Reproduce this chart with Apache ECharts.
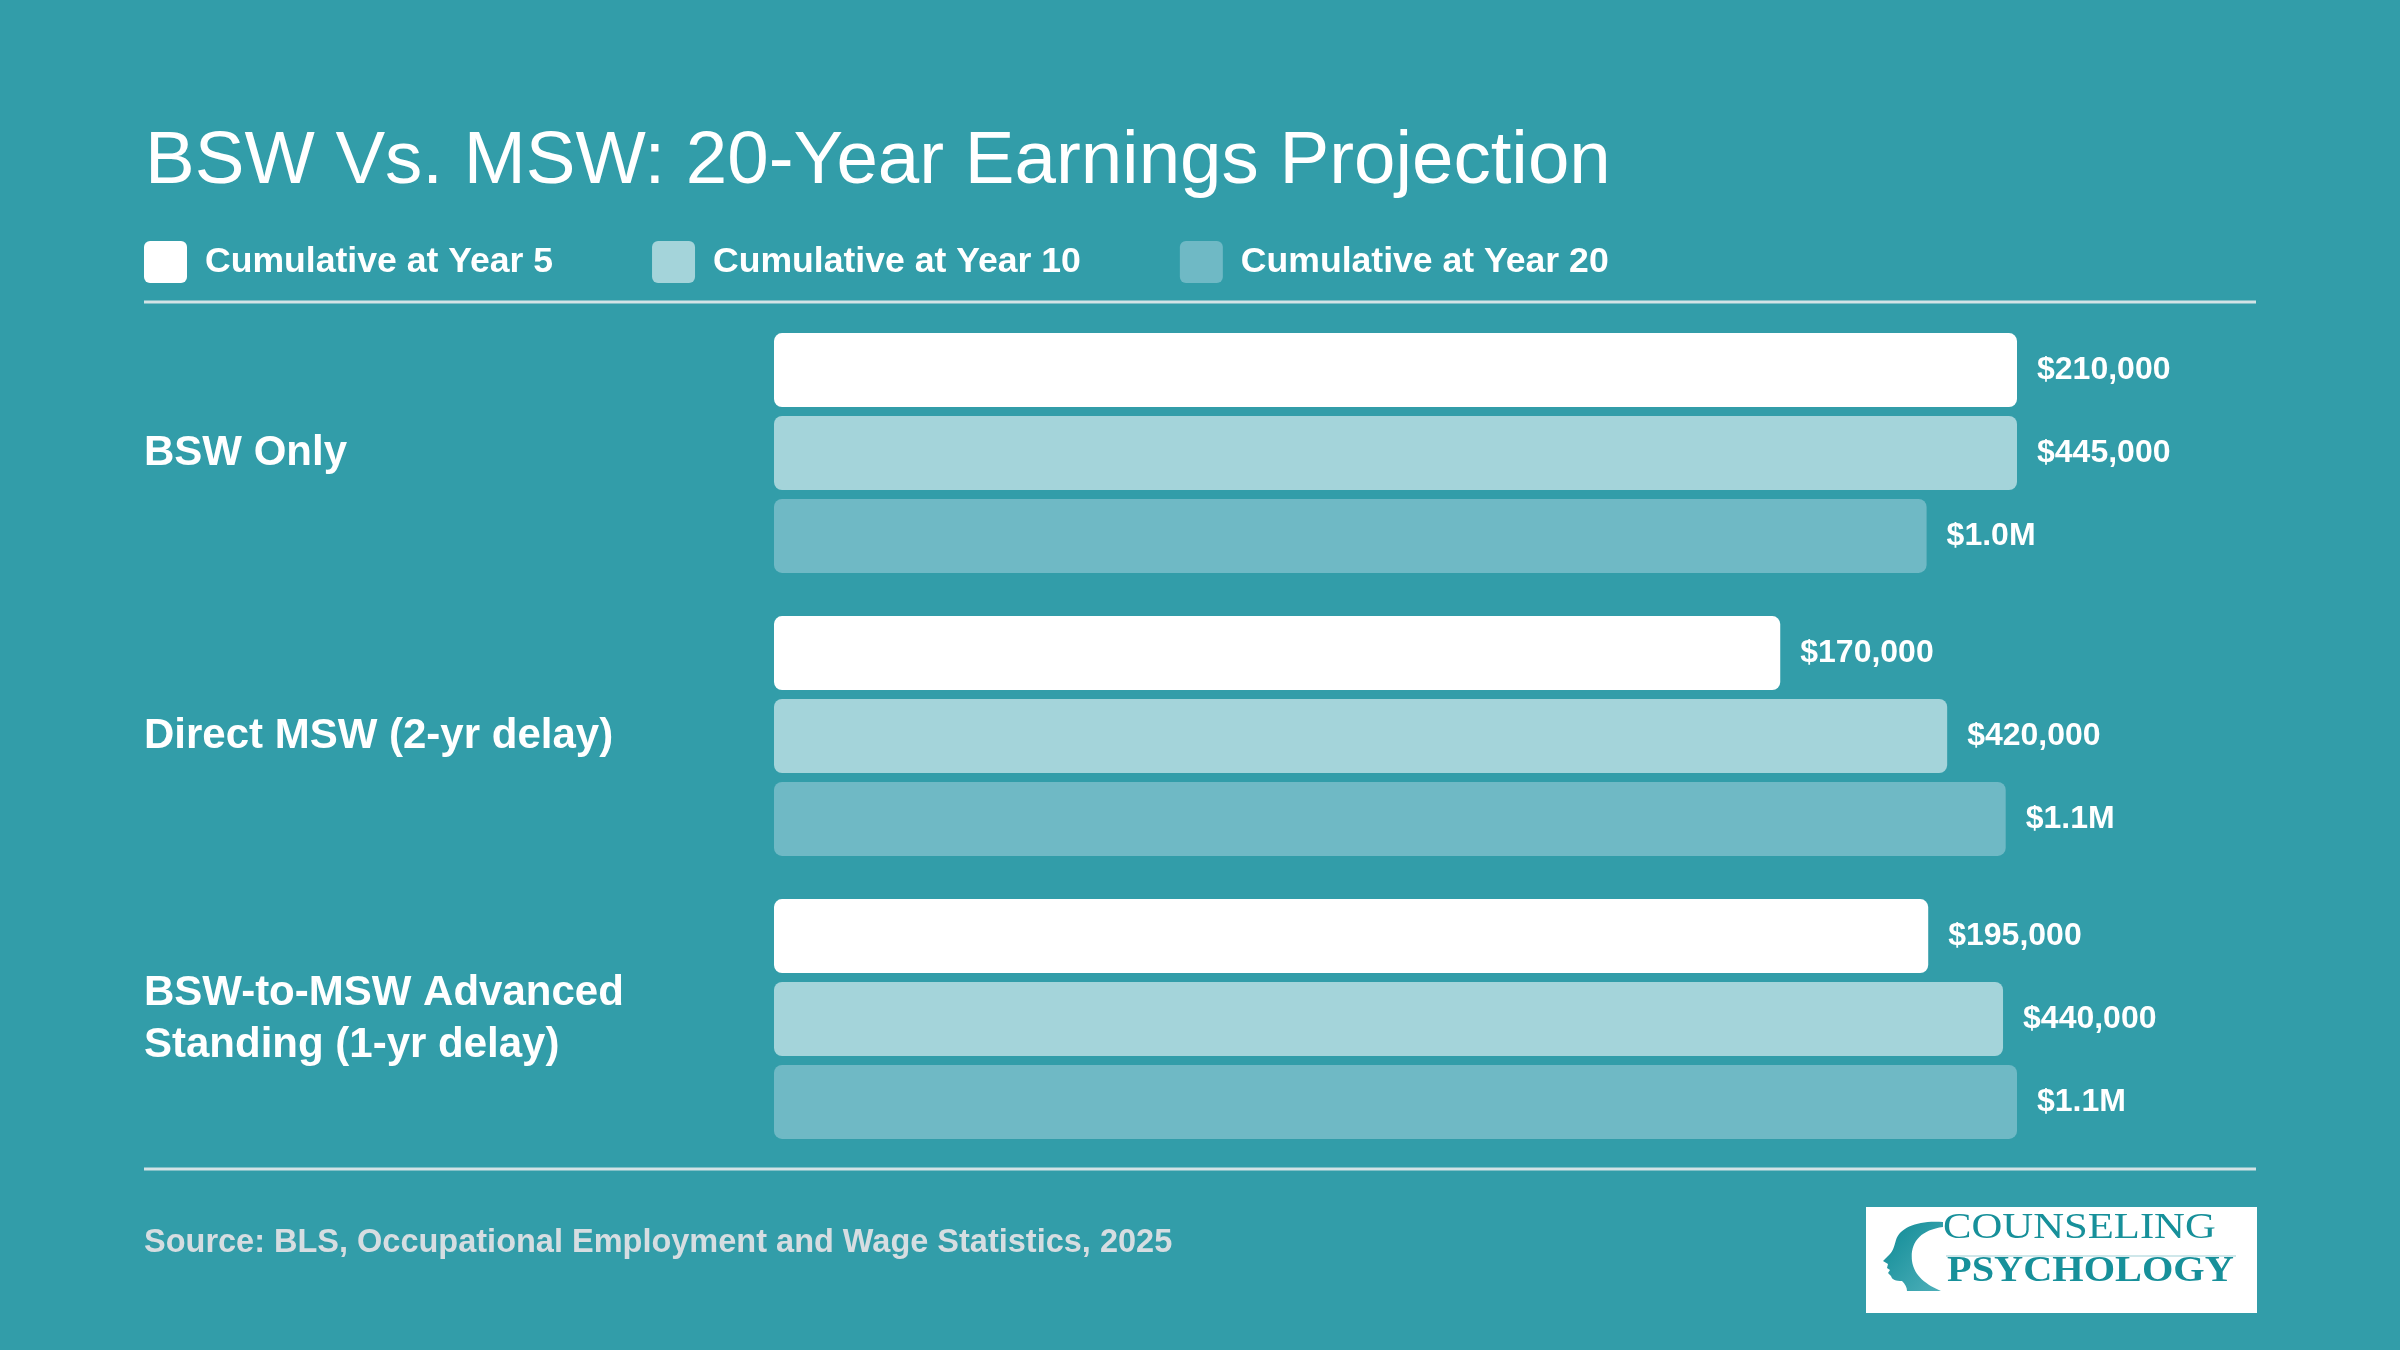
<!DOCTYPE html>
<html>
<head>
<meta charset="utf-8">
<script src="https://cdn.jsdelivr.net/npm/echarts@6/dist/echarts.min.js"></script>
<style>
  html, body { margin: 0; padding: 0; background: #329DA9; }
  #chart { width: 2400px; height: 1350px; }
</style>
</head>
<body>
<div id="chart"></div>
<script>
// ---- data ----
const categories = ['BSW Only', 'Direct MSW (2-yr delay)', 'BSW-to-MSW Advanced Standing (1-yr delay)'];
const seriesNames = ['Cumulative at Year 5', 'Cumulative at Year 10', 'Cumulative at Year 20'];
const year5 = [210000, 170000, 195000];
const year10 = [445000, 420000, 440000];
const year20 = [1020000, 1090000, 1100000];
const titleText = 'BSW Vs. MSW: 20-Year Earnings Projection';
const sourceText = 'Source: BLS, Occupational Employment and Wage Statistics, 2025';

const FONT = '"Liberation Sans", Arial, Helvetica, sans-serif';
const SERIF = '"Liberation Serif", "DejaVu Serif", serif';
const BG = '#329DA9';
const colors = ['#FFFFFF', '#A4D4DA', '#6FB9C5'];

function fmt(v) {
  if (v >= 1000000) return '$' + (v / 1000000).toFixed(1) + 'M';
  return '$' + v.toLocaleString('en-US');
}

const chart = echarts.init(document.getElementById('chart'), null, { renderer: 'canvas' });

const dataSets = [year5, year10, year20];
const roundRectIcon = 'path://M6,0 H37 A6,6 0 0 1 43,6 V36 A6,6 0 0 1 37,42 H6 A6,6 0 0 1 0,36 V6 A6,6 0 0 1 6,0 Z';

const series = dataSets.map((d, i) => ({
  name: seriesNames[i],
  type: 'bar',
  xAxisIndex: i,
  yAxisIndex: 0,
  data: d,
  barWidth: 74,
  barGap: '12%',
  itemStyle: { color: colors[i], borderRadius: 8 },
  label: {
    show: true,
    position: 'right',
    distance: 20,
    color: '#FFFFFF',
    fontFamily: FONT,
    fontWeight: 'bold',
    fontSize: 32,
    formatter: p => fmt(p.value)
  },
  emphasis: { disabled: true },
  animation: false
}));

const headPath = 'M60,1 C36,-1 17,6 13,19 C11,26 10,30 7,33 L0,40 L5,43 L4,47 L7,49 L5,52 L8,55 C9,59 13,60 19,60 C22,63 24,66 24,70 L58,70 C44,64 31,55 29,40 C27,22 37,9 60,6 Z';
const headSvg = '<svg xmlns="http://www.w3.org/2000/svg" width="60" height="70" viewBox="0 0 60 70">' +
  '<defs><linearGradient id="g" x1="0" y1="0" x2="1" y2="1"><stop offset="0" stop-color="#0E8A95"/><stop offset="1" stop-color="#4FB0BA"/></linearGradient></defs>' +
  '<path d="' + headPath + '" fill="url(#g)"/></svg>';
const headImg = 'data:image/svg+xml;charset=utf-8,' + encodeURIComponent(headSvg);

const option = {
  backgroundColor: BG,
  animation: false,
  title: {
    text: titleText,
    left: 140,
    top: 120,
    textStyle: { color: '#FFFFFF', fontFamily: FONT, fontWeight: 'normal', fontSize: 74.5 }
  },
  legend: {
    left: 144,
    top: 241,
    padding: 0,
    itemWidth: 43,
    itemHeight: 42,
    itemGap: 99,
    icon: roundRectIcon,
    data: seriesNames,
    selectedMode: false,
    textStyle: { color: '#FFFFFF', fontFamily: FONT, fontWeight: 'bold', fontSize: 35.6, padding: [0, 0, 0, 13] }
  },
  grid: { left: 774, top: 311.5, width: 1243, height: 849, containLabel: false },
  xAxis: dataSets.map(() => ({
    type: 'value', min: 0, max: 'dataMax', show: false
  })),
  yAxis: [{
    type: 'category',
    data: categories,
    inverse: true,
    axisLine: { show: false },
    axisTick: { show: false },
    splitLine: { show: false },
    axisLabel: {
      align: 'left',
      margin: 630,
      color: '#FFFFFF',
      fontFamily: FONT,
      fontWeight: 'bold',
      fontSize: 42,
      lineHeight: 52,
      width: 500,
      overflow: 'break',
      padding: [10, 0, 0, 0]
    }
  }],
  series: series,
  graphic: [
    { type: 'line', shape: { x1: 144, y1: 302, x2: 2256, y2: 302 }, style: { stroke: '#D3E3E6', lineWidth: 3 }, silent: true },
    { type: 'line', shape: { x1: 144, y1: 1169, x2: 2256, y2: 1169 }, style: { stroke: '#D3E3E6', lineWidth: 3 }, silent: true },
    { type: 'text', x: 144, y: 1243, style: { text: sourceText, fill: '#D6DDE1', font: 'bold 32.5px ' + FONT, textVerticalAlign: 'middle' }, silent: true },
    { type: 'rect', shape: { x: 1866, y: 1207, width: 391, height: 106 }, style: { fill: '#FFFFFF' }, silent: true },
    { type: 'image', style: { image: headImg, x: 1883, y: 1221, width: 60, height: 70 }, silent: true },
    { type: 'text', x: 1943, y: 1246, scaleX: 1.22, style: { text: 'COUNSELING', fill: '#17909A', font: '35px ' + SERIF, textVerticalAlign: 'bottom' }, silent: true },
    { type: 'line', shape: { x1: 1946, y1: 1256, x2: 2236, y2: 1256 }, style: { stroke: '#CFE7EA', lineWidth: 2 }, silent: true },
    { type: 'text', x: 1947, y: 1290, scaleX: 1.12, style: { text: 'PSYCHOLOGY', fill: '#17909A', font: 'bold 36px ' + SERIF, textVerticalAlign: 'bottom' }, silent: true }
  ]
};

chart.setOption(option);
</script>
</body>
</html>
